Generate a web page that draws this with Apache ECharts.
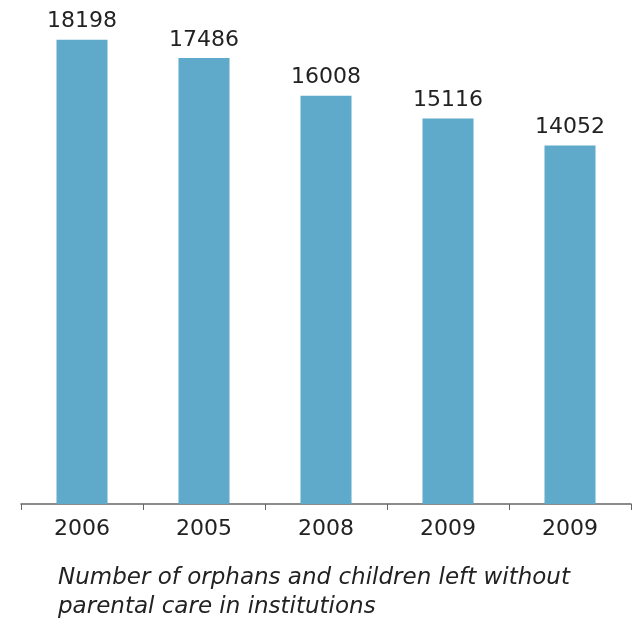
<!DOCTYPE html>
<html>
<head>
<meta charset="utf-8">
<script src="https://cdn.jsdelivr.net/npm/echarts@6/dist/echarts.min.js"></script>
<style>
  html, body { margin: 0; padding: 0; background: #fff; }
  #chart { width: 633px; height: 621px; }
</style>
</head>
<body>
<div id="chart"></div>
<script>
var years = ['2006', '2005', '2008', '2009', '2009'];
var orphans = [18198, 17486, 16008, 15116, 14052];
var caption = 'Number of orphans and children left without\nparental care in institutions';

var chart = echarts.init(document.getElementById('chart'));
chart.setOption({
  animation: false,
  grid: { left: 21, right: 2, top: 4, bottom: 117 },
  title: {
    text: caption,
    left: 53,
    top: 559,
    textStyle: {
      fontFamily: 'DejaVu Sans',
      fontStyle: 'italic',
      fontWeight: 'normal',
      fontSize: 23,
      lineHeight: 29,
      color: '#222'
    }
  },
  xAxis: {
    type: 'category',
    data: years,
    axisLine: { lineStyle: { color: '#666', width: 1.5 } },
    axisTick: { show: true, length: 6, lineStyle: { color: '#666' } },
    axisLabel: {
      fontFamily: 'DejaVu Sans',
      fontSize: 22,
      color: '#222',
      margin: 14
    }
  },
  yAxis: {
    type: 'value',
    min: 0,
    max: 19600,
    show: false,
    splitLine: { show: false }
  },
  series: [{
    type: 'bar',
    data: orphans,
    barWidth: 51,
    itemStyle: { color: '#5FA9CA' },
    label: {
      show: true,
      position: 'top',
      distance: 7,
      fontFamily: 'DejaVu Sans',
      fontSize: 22,
      color: '#222'
    }
  }]
});
</script>
</body>
</html>
